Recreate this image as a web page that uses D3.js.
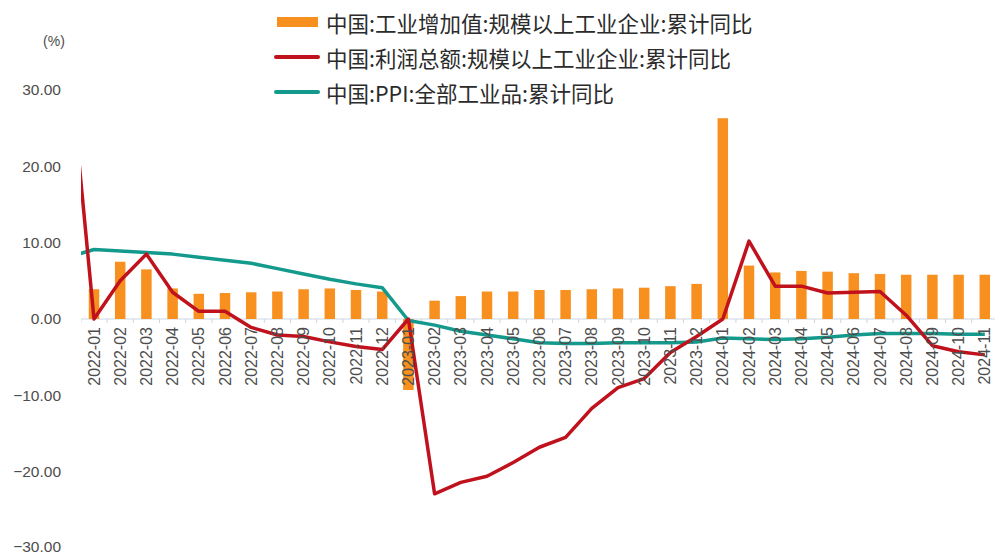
<!DOCTYPE html>
<html>
<head>
<meta charset="utf-8">
<script src="https://cdn.jsdelivr.net/npm/d3@7/dist/d3.min.js"></script>
<style>
  html, body { margin: 0; padding: 0; background: #fff; }
  svg { display: block; }
</style>
</head>
<body>
<svg id="chart" width="995" height="555"></svg>
<script>
// Months (cumulative, year-to-date). The leading 2021-12 point only feeds the
// line segments entering the plot from the left edge.
const months = [
  "2021-12",
  "2022-01","2022-02","2022-03","2022-04","2022-05","2022-06","2022-07","2022-08","2022-09","2022-10","2022-11","2022-12",
  "2023-01","2023-02","2023-03","2023-04","2023-05","2023-06","2023-07","2023-08","2023-09","2023-10","2023-11","2023-12",
  "2024-01","2024-02","2024-03","2024-04","2024-05","2024-06","2024-07","2024-08","2024-09","2024-10","2024-11"
];

// 工业增加值:规模以上工业企业:累计同比 (bars, %)
const valueAdded = [
  null,
  3.9, 7.5, 6.5, 4.0, 3.3, 3.4, 3.5, 3.6, 3.9, 4.0, 3.8, 3.6,
  -9.3, 2.4, 3.0, 3.6, 3.6, 3.8, 3.8, 3.9, 4.0, 4.1, 4.3, 4.6,
  26.3, 7.0, 6.1, 6.3, 6.2, 6.0, 5.9, 5.8, 5.8, 5.8, 5.8
];

// 利润总额:规模以上工业企业:累计同比 (red line, %)
const profit = [
  36.0,
  0.0, 5.0, 8.5, 3.5, 1.0, 1.0, -1.1, -2.1, -2.3, -3.0, -3.6, -4.0,
  0.0, -22.9, -21.4, -20.6, -18.8, -16.8, -15.5, -11.7, -9.0, -7.8, -4.4, -2.3,
  0.0, 10.2, 4.3, 4.3, 3.4, 3.5, 3.6, 0.5, -3.5, -4.3, -4.7
];

// PPI:全部工业品:累计同比 (teal line, %)
const ppi = [
  8.1,
  9.1, 8.9, 8.7, 8.5, 8.1, 7.7, 7.3, 6.6, 5.9, 5.2, 4.6, 4.1,
  -0.2, -0.8, -1.6, -2.1, -2.6, -3.1, -3.2, -3.2, -3.1, -3.1, -3.1, -3.0,
  -2.5, -2.6, -2.7, -2.6, -2.4, -2.1, -1.9, -1.9, -1.9, -2.0, -2.0
];

const yTicks = [30, 20, 10, 0, -10, -20, -30];

const seriesNames = [
  "中国:工业增加值:规模以上工业企业:累计同比",
  "中国:利润总额:规模以上工业企业:累计同比",
  "中国:PPI:全部工业品:累计同比"
];
const colors = { bar: "#f7901e", profit: "#c0121c", ppi: "#139a8c" };

const svg = d3.select("#chart");
const plotLeft = 81, plotRight = 995;

const x = d3.scaleBand()
  .domain(months)
  .range([54.7, 997.9])
  .paddingInner(0.6)
  .paddingOuter(0.3);
const cx = m => x(m) + x.bandwidth() / 2;

const y = d3.scaleLinear().domain([-30, 30]).range([548, 90]);

svg.append("defs").append("clipPath").attr("id", "plotClip")
  .append("rect").attr("x", plotLeft).attr("y", 0)
  .attr("width", plotRight - plotLeft).attr("height", 555);

// Y axis labels (no axis line)
const yAxis = d3.axisLeft(y).tickValues(yTicks).tickFormat(d3.format(".2f")).tickSize(0).tickPadding(0);
const yg = svg.append("g").attr("transform", "translate(61,0)").call(yAxis);
yg.select(".domain").remove();
yg.selectAll("text")
  .attr("font-family", "'Liberation Sans', Arial, sans-serif")
  .attr("font-size", 15.5)
  .attr("fill", "#4d4d4d");
// keep the lowest label inside the frame
yg.selectAll(".tick").filter(d => d === -30).select("text").attr("dy", "0.2em");

svg.append("text").attr("x", 54).attr("y", 46)
  .attr("text-anchor", "middle")
  .attr("font-family", "'Liberation Sans', Arial, sans-serif")
  .attr("font-size", 14).attr("fill", "#4d4d4d").text("(%)");

const shown = months.slice(1);
const plot = svg.append("g").attr("clip-path", "url(#plotClip)");

// Zero line with small ticks between categories
plot.append("line")
  .attr("x1", plotLeft).attr("x2", plotRight)
  .attr("y1", y(0)).attr("y2", y(0))
  .attr("stroke", "#cdd5e4").attr("stroke-width", 1);
plot.selectAll(".xtick").data(shown).join("line")
  .attr("x1", d => x(d) - x.step() * x.paddingInner() / 2)
  .attr("x2", d => x(d) - x.step() * x.paddingInner() / 2)
  .attr("y1", y(0)).attr("y2", y(0) + 4)
  .attr("stroke", "#cdd5e4").attr("stroke-width", 1);

// Bars
const barData = months.map((m, i) => ({ m, v: valueAdded[i] })).filter(d => d.v !== null);
plot.selectAll(".bar").data(barData).join("rect")
  .attr("x", d => x(d.m))
  .attr("width", x.bandwidth())
  .attr("y", d => y(Math.max(0, d.v)))
  .attr("height", d => Math.abs(y(d.v) - y(0)))
  .attr("fill", colors.bar);

// Category labels, rotated
svg.append("g").selectAll("text").data(shown).join("text")
  .attr("transform", d => `translate(${cx(d) + 5.5},${y(0) + 8}) rotate(-90)`)
  .attr("text-anchor", "end")
  .attr("font-family", "'Liberation Sans', Arial, sans-serif")
  .attr("font-size", 16)
  .attr("fill", "#4d4d4d")
  .text(d => d);

// Lines
const lineGen = d3.line().x((d, i) => cx(months[i])).y(d => y(d));
plot.append("path").datum(ppi)
  .attr("d", lineGen).attr("fill", "none")
  .attr("stroke", colors.ppi).attr("stroke-width", 3.5).attr("stroke-linejoin", "round");
plot.append("path").datum(profit)
  .attr("d", lineGen).attr("fill", "none")
  .attr("stroke", colors.profit).attr("stroke-width", 3.5).attr("stroke-linejoin", "round");

// Legend
const legend = svg.append("g");
const rows = [22, 57, 92];
legend.append("rect").attr("x", 277).attr("y", rows[0] - 5).attr("width", 41).attr("height", 10).attr("fill", colors.bar);
legend.append("line").attr("x1", 276).attr("x2", 318).attr("y1", rows[1]).attr("y2", rows[1])
  .attr("stroke", colors.profit).attr("stroke-width", 4).attr("stroke-linecap", "round");
legend.append("line").attr("x1", 276).attr("x2", 318).attr("y1", rows[2]).attr("y2", rows[2])
  .attr("stroke", colors.ppi).attr("stroke-width", 4).attr("stroke-linecap", "round");
legend.selectAll(".lt").data(seriesNames).join("text")
  .attr("x", 326).attr("y", (d, i) => rows[i])
  .attr("dominant-baseline", "central")
  .attr("font-family", "'Noto Sans CJK SC', sans-serif")
  .attr("font-size", 21.5)
  .attr("fill", "#2b2b2b")
  .text(d => d);
</script>
</body>
</html>
